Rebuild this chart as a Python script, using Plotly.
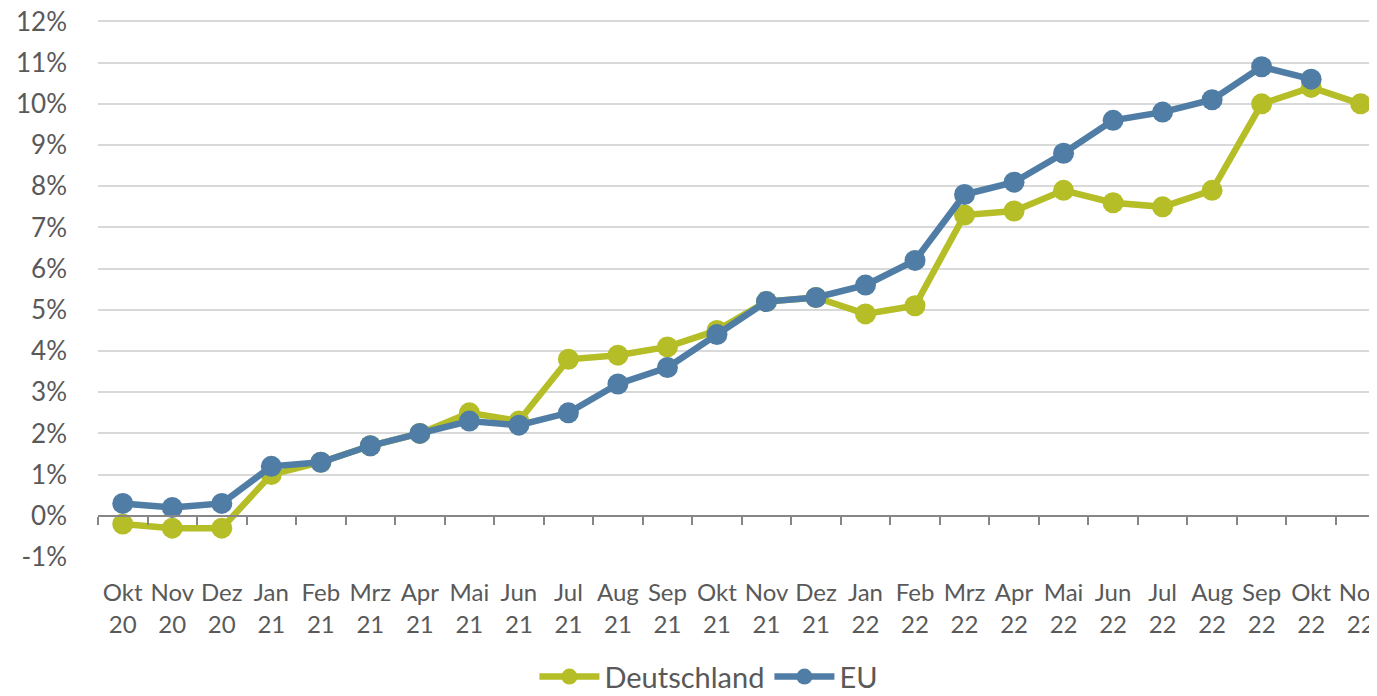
import plotly.graph_objects as go

months = ["Okt<br>20", "Nov<br>20", "Dez<br>20", "Jan<br>21", "Feb<br>21", "Mrz<br>21",
          "Apr<br>21", "Mai<br>21", "Jun<br>21", "Jul<br>21", "Aug<br>21", "Sep<br>21",
          "Okt<br>21", "Nov<br>21", "Dez<br>21", "Jan<br>22", "Feb<br>22", "Mrz<br>22",
          "Apr<br>22", "Mai<br>22", "Jun<br>22", "Jul<br>22", "Aug<br>22", "Sep<br>22",
          "Okt<br>22", "Nov<br>22"]

deutschland = [-0.2, -0.3, -0.3, 1.0, 1.3, 1.7, 2.0, 2.5, 2.3, 3.8, 3.9, 4.1, 4.5, 5.2,
               5.3, 4.9, 5.1, 7.3, 7.4, 7.9, 7.6, 7.5, 7.9, 10.0, 10.4, 10.0]
eu = [0.3, 0.2, 0.3, 1.2, 1.3, 1.7, 2.0, 2.3, 2.2, 2.5, 3.2, 3.6, 4.4, 5.2,
      5.3, 5.6, 6.2, 7.8, 8.1, 8.8, 9.6, 9.8, 10.1, 10.9, 10.6, None]

y_ticks = list(range(-1, 13))
y_labels = [f"{v}%" for v in y_ticks]

GREEN = "#B5BE27"
BLUE = "#507DA5"
TXT = "#595959"
FONT = "Lato, Open Sans, sans-serif"

fig = go.Figure()
fig.add_trace(go.Scatter(x=months, y=deutschland, name="Deutschland", mode="lines+markers",
                         line=dict(color=GREEN, width=6.5), marker=dict(color=GREEN, size=21)))
fig.add_trace(go.Scatter(x=months, y=eu, name="EU", mode="lines+markers",
                         line=dict(color=BLUE, width=6.5), marker=dict(color=BLUE, size=21)))

y0, y1 = -1, 12.06
zero_pos = (0 - y0) / (y1 - y0)

# the page body has an 8px margin, so the figure is sized to fill the window exactly
fig.update_layout(
    width=1369, height=688,
    margin=dict(l=90, r=0, t=10.5, b=139),
    plot_bgcolor="white", paper_bgcolor="white",
    font=dict(family=FONT, color=TXT, size=24),
    showlegend=True,
    legend=dict(orientation="h", xref="container", yref="container",
                x=0.512, xanchor="center", y=0.028, yanchor="middle",
                font=dict(size=29, color=TXT), itemwidth=60, traceorder="normal"),
    xaxis=dict(type="category", categoryorder="array", categoryarray=months,
               range=[-0.5, 25.33], anchor="free", position=zero_pos,
               showline=True, linecolor="#868686", linewidth=1.5,
               ticks="outside", ticklen=8, tickcolor="#868686", tickwidth=1.5,
               tickson="boundaries", showgrid=False, ticklabelstandoff=56,
               tickangle=0, automargin=False, ticklabeloverflow="allow",
               tickfont=dict(size=24, color=TXT)),
    yaxis=dict(range=[y0, y1], tickvals=y_ticks, ticktext=y_labels,
               showgrid=True, gridcolor="#D9D9D9", gridwidth=1.5,
               zeroline=False, showline=False, ticks="", ticklabelstandoff=30,
               automargin=False, ticklabeloverflow="allow",
               tickfont=dict(size=26, color=TXT)),
)

fig.write_html("out.html")
